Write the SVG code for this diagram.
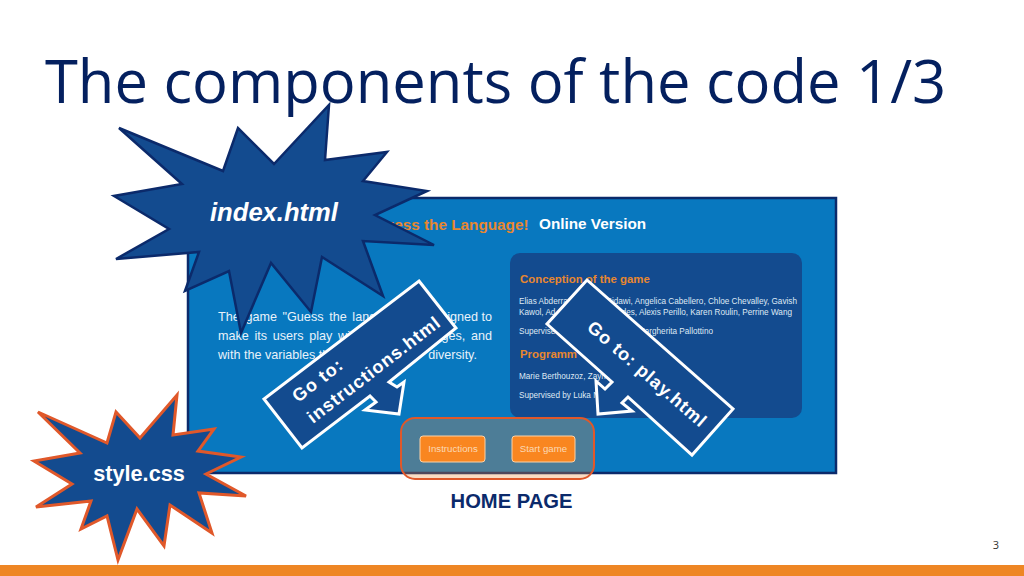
<svg xmlns="http://www.w3.org/2000/svg" width="1024" height="576" viewBox="0 0 1024 576">
<style>
text{font-family:"Liberation Sans",Arial,sans-serif}
.star{fill:#134b8f;stroke-linejoin:miter}
.callout{fill:#134b8f;stroke:#fff;stroke-width:3;stroke-linejoin:miter}
.lbl{fill:#fff;font-weight:700}
.go{font-size:18px;letter-spacing:1px}
.p{fill:#e8f2fa;font-size:12.6px}
.s{fill:#dfe9f4;font-size:8.2px}
.h{fill:#e8872f;font-weight:700;font-size:11.4px}
.btn{fill:#f98620;stroke:#fbd3a8;stroke-width:1}
.bt{fill:#fbd9b5;font-size:9.7px;text-anchor:middle}
</style>
<rect width="1024" height="576" fill="#fff"/>
<rect y="565" width="1024" height="11" fill="#ee8624"/>
<text x="45" y="102.500" font-size="59.700" style="font-family:'Open Sans',sans-serif" fill="#04205f">The components of the code 1/3</text>
<text x="996" y="549" font-size="11" text-anchor="middle" fill="#333" style="font-family:'Open Sans',sans-serif">3</text>
<g id="page">
<rect x="188" y="198" width="648" height="275" fill="#0878bf" stroke="#0b2a6b" stroke-width="2.500"/>
<text x="373" y="230" font-size="15.300" font-weight="700" fill="#e8872f">Guess the Language!</text>
<text x="539" y="229" font-size="15.300" font-weight="700" fill="#fff">Online Version</text>
<text x="218" y="321" class="p" word-spacing="2.200">The game "Guess the lang</text>
<text x="492" y="321" class="p" text-anchor="end">igned to</text>
<text x="218" y="340" class="p" word-spacing="2.200">make its users play wit</text>
<text x="492" y="340" class="p" text-anchor="end" word-spacing="2.200">ges, and</text>
<text x="218" y="359" class="p">with the variables th</text>
<text x="477" y="359" class="p" text-anchor="end">diversity.</text>
<rect x="510" y="253" width="292" height="165" rx="10" fill="#134b8f"/>
<text x="520" y="283" class="h">Conception of the game</text>
<text x="519" y="304" class="s">Elias Abderra</text>
<text x="797" y="304" class="s" text-anchor="end">l-Sidawi, Angelica Cabellero, Chloe Chevalley, Gavish</text>
<text x="519" y="315" class="s">Kawol, Ad</text>
<text x="792" y="315" class="s" text-anchor="end">redes, Alexis Perillo, Karen Roulin, Perrine Wang</text>
<text x="519" y="334" class="s">Supervise</text>
<text x="713" y="334" class="s" text-anchor="end">Margherita Pallottino</text>
<text x="520" y="358" class="h">Programm</text>
<text x="519" y="379" class="s">Marie Berthouzoz, Zayn</text>
<text x="519" y="398" class="s">Supervised by Luka N</text>
</g>
<g id="home">
<rect x="401" y="418" width="193" height="61" rx="14" fill="#f08a3c" fill-opacity=".3" stroke="#e0582a" stroke-width="2"/>
<rect x="420" y="436" width="65" height="26" rx="3" class="btn"/>
<text x="453" y="452" class="bt">Instructions</text>
<rect x="512" y="436" width="63" height="26" rx="3" class="btn"/>
<text x="543.500" y="452" class="bt">Start game</text>
<text x="511.500" y="508" font-size="20.200" font-weight="700" text-anchor="middle" fill="#0b2a6b">HOME PAGE</text>
</g>
<g id="index-star">
<polygon class="star" stroke="#0b2a6b" stroke-width="2.500" points="119,128 223,171 238,128 274,164 329,105 325,160 387,152 363,181 427,191 375,215 434,245 363,241 383,296 322,257 311,312 271,263 241,333 229,271 185,291 199,252 116,259 169,229 114,196 182,184"/>
<text x="274" y="221" font-size="25.600" font-weight="700" font-style="italic" class="lbl" text-anchor="middle">index.html</text>
</g>
<g id="style-star">
<polygon class="star" stroke="#e0582a" stroke-width="3" points="38,412 107,443 116,412 140,438 177,395 173,435 214,429 198,451 241,457 206,474 246,496 199,493 212,533 170,505 164,546 137,509 118,560 107,516 81,529 91,501 36,507 72,484 34,461 80,453"/>
<text x="139" y="481" font-size="21.700" font-weight="700" class="lbl" text-anchor="middle">style.css</text>
</g>
<g id="goto-instructions">
<polygon class="callout" points="419,281 456,328 389,382 397,387 404,382 399,414 365,410 376,402 370,396 302,448 264,399"/>
<text transform="translate(298,403) rotate(-37.500)" class="lbl go">Go to:</text>
<text transform="translate(313,424) rotate(-37.500)" class="lbl go">instructions.html</text>
</g>
<g id="goto-play">
<polygon class="callout" points="587,280 733,409 692,455 628,397 622,403 632,411 598,414 596,381 605,389 612,382 547,324"/>
<text transform="translate(586,329) rotate(41)" class="lbl go">Go to: play.html</text>
</g>
</svg>
